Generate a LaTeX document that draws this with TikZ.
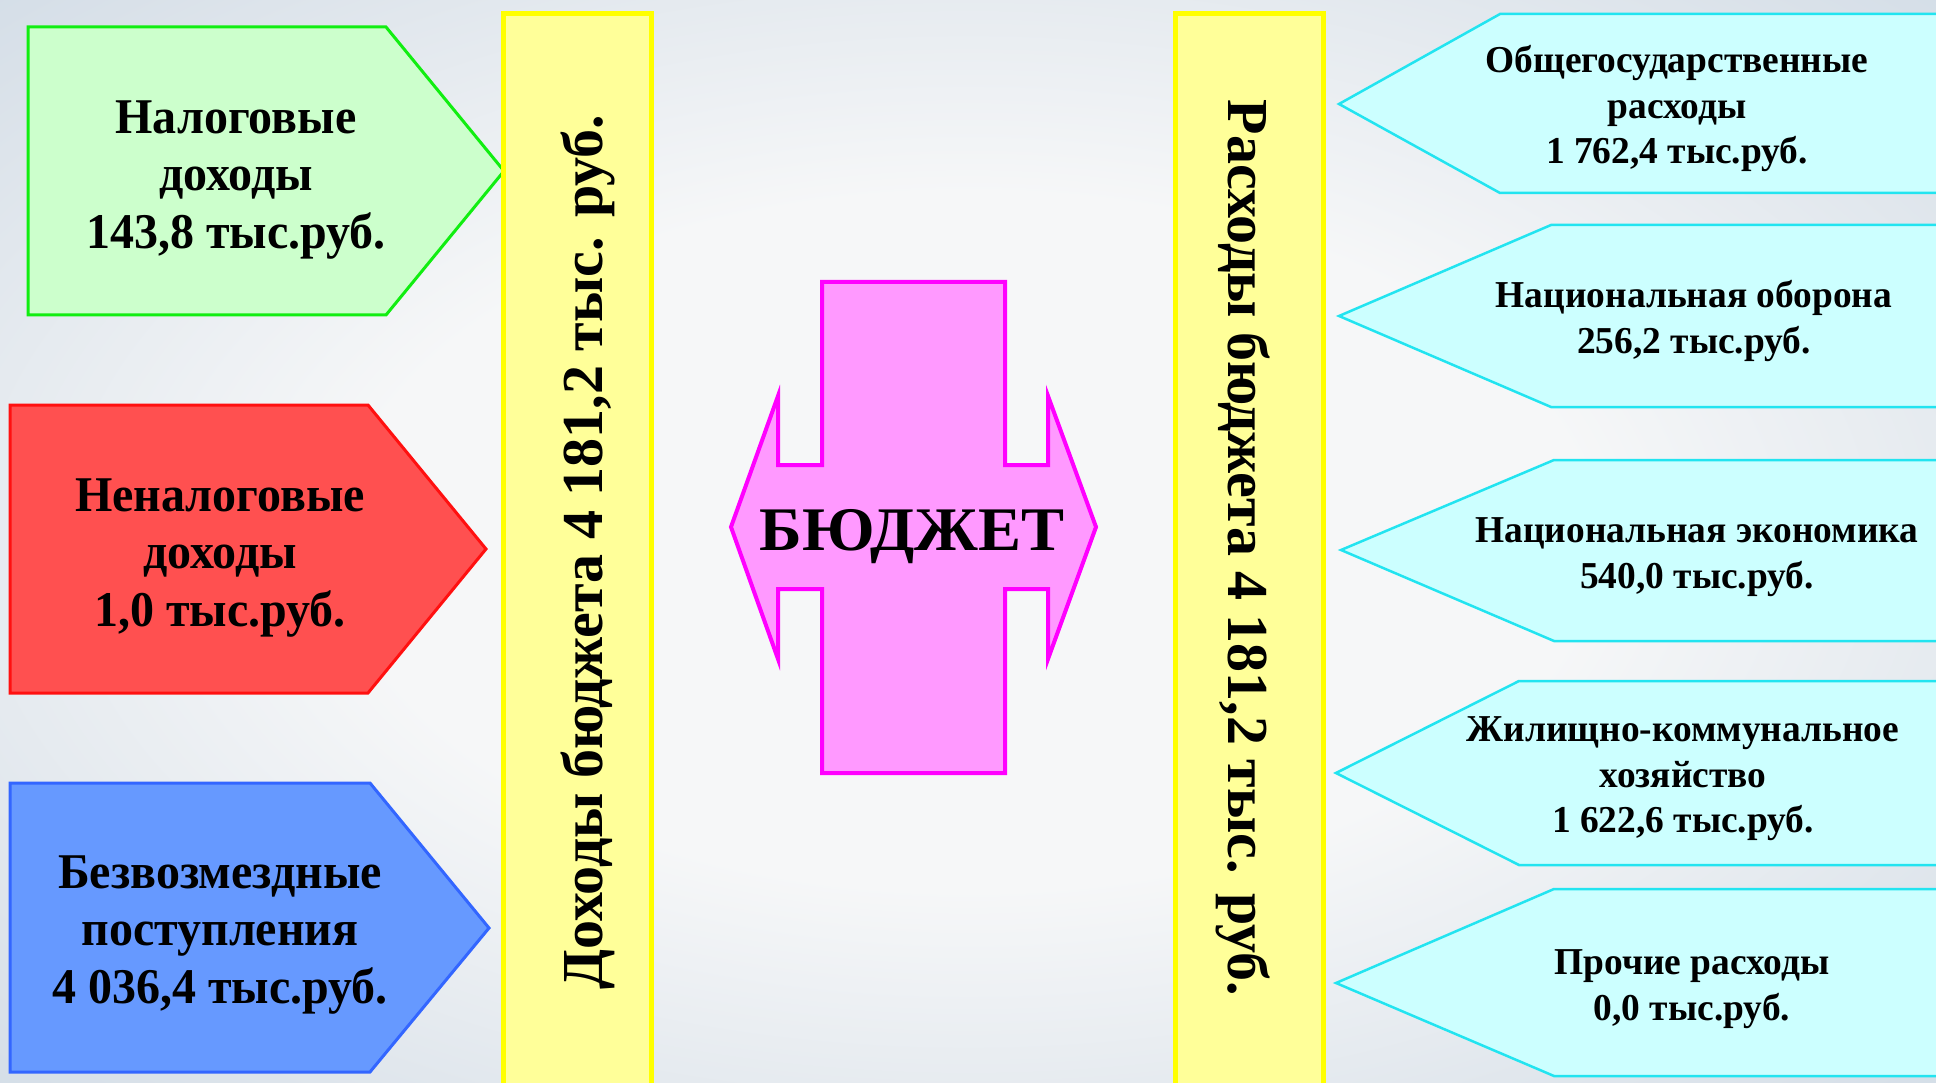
\documentclass[tikz,border=0pt]{standalone}
\usepackage{fontspec}
\setmainfont{Liberation Serif}
\newfontfamily\leftfont{Liberation Serif}[FakeStretch=0.96]
\newfontfamily\rightfont{Liberation Serif}[FakeStretch=0.985]
\newfontfamily\bigfont{Liberation Serif}[FakeStretch=1.04]
\definecolor{bgin}{HTML}{F6F7F8}
\definecolor{bgmid}{HTML}{D9E1E9}
\definecolor{bgout}{HTML}{B4CAE0}
\definecolor{grfill}{HTML}{CCFFCC}
\definecolor{grline}{HTML}{11EE11}
\definecolor{rdfill}{HTML}{FF5050}
\definecolor{rdline}{HTML}{FF1010}
\definecolor{blfill}{HTML}{6699FF}
\definecolor{blline}{HTML}{3366FF}
\definecolor{yefill}{HTML}{FFFF99}
\definecolor{yeline}{HTML}{FFFF00}
\definecolor{mgfill}{HTML}{FF99FF}
\definecolor{mgline}{HTML}{FF00FF}
\definecolor{cyfill}{HTML}{CCFFFF}
\definecolor{cyline}{HTML}{22E4F0}
\pgfdeclareradialshading{bgshade}{\pgfpoint{0bp}{0bp}}{color(0bp)=(bgin); color(16bp)=(bgin); color(33bp)=(bgmid); color(54bp)=(bgout); color(100bp)=(bgout)}
\begin{document}
\begin{tikzpicture}[x=1pt,y=-1pt,
  shapebox/.style={line width=3pt, line join=miter},
  greenbox/.style={shapebox, fill=grfill, draw=grline},
  redbox/.style={shapebox, fill=rdfill, draw=rdline},
  bluebox/.style={shapebox, fill=blfill, draw=blline},
  cyanbox/.style={shapebox, line width=2.5pt, fill=cyfill, draw=cyline},
  bar/.style={line width=5pt, fill=yefill, draw=yeline},
  budget/.style={line width=4pt, fill=mgfill, draw=mgline, line join=miter},
  lbl/.style={font=\leftfont\bfseries\fontsize{50}{57.5}\selectfont, align=center, inner sep=0pt},
  rlbl/.style={font=\rightfont\bfseries\fontsize{38}{45.5}\selectfont, align=center, inner sep=0pt},
  barlbl/.style={font=\bfseries\fontsize{58}{64}\selectfont, inner sep=0pt, anchor=base},
  biglbl/.style={font=\bigfont\bfseries\fontsize{62}{68}\selectfont, inner sep=0pt, anchor=base}]
\useasboundingbox (0,0) rectangle (1936,1083);
\clip (0,0) rectangle (1936,1083);
\shade[shading=bgshade] (0,0) rectangle (1936,1083);

% income boxes
\draw[greenbox] (28,27) -- (386,27) -- (504,171) -- (386,315) -- (28,315) -- cycle;
\node[lbl] (tax) at (236,180) {Налоговые\\доходы\\143,8 тыс.руб.};
\draw[redbox] (10,405) -- (368,405) -- (486,549) -- (368,693) -- (10,693) -- cycle;
\node[lbl] (nontax) at (220,558) {Неналоговые\\доходы\\1,0 тыс.руб.};
\draw[bluebox] (10,783) -- (370,783) -- (489,928) -- (370,1072) -- (10,1072) -- cycle;
\node[lbl] (free) at (220,935) {Безвозмездные\\поступления\\4 036,4 тыс.руб.};

% bars
\draw[bar] (503,14) rectangle (651,1100);
\node[barlbl, rotate=90] (income) at (602,552) {Доходы бюджета 4 181,2 тыс. руб.};
\draw[bar] (1175,14) rectangle (1323,1100);
\node[barlbl, rotate=-90] (expense) at (1228,548) {Расходы бюджета 4 181,2 тыс. руб.};

% budget shape
\draw[budget] (822,282) -- (1005,282) -- (1005,465) -- (1048,465) -- (1048,396)
  -- (1096,527) -- (1048,659) -- (1048,589) -- (1005,589) -- (1005,773)
  -- (822,773) -- (822,589) -- (778,589) -- (778,659) -- (731,527)
  -- (778,396) -- (778,465) -- (822,465) -- cycle;
\node[biglbl] (budgetlbl) at (912,550) {БЮДЖЕТ};

% expense arrows
\draw[cyanbox] (1960,14) -- (1500,14) -- (1339,104) -- (1500,193) -- (1960,193);
\node[rlbl] (gen) at (1677,109) {Общегосударственные\\расходы\\1 762,4 тыс.руб.};
\draw[cyanbox] (1960,225) -- (1551,225) -- (1339,316) -- (1551,407) -- (1960,407);
\node[rlbl] (def) at (1694,321) {Национальная оборона\\256,2 тыс.руб.};
\draw[cyanbox] (1960,460) -- (1554,460) -- (1341,550) -- (1554,641) -- (1960,641);
\node[rlbl] (eco) at (1697,557) {Национальная экономика\\540,0 тыс.руб.};
\draw[cyanbox] (1960,681) -- (1519,681) -- (1336,773) -- (1519,865) -- (1960,865);
\node[rlbl] (hous) at (1683,779) {Жилищно-коммунальное\\хозяйство\\1 622,6 тыс.руб.};
\draw[cyanbox] (1960,889) -- (1554,889) -- (1336,983) -- (1554,1076) -- (1960,1076);
\node[rlbl] (other) at (1692,989) {Прочие расходы\\0,0 тыс.руб.};
\end{tikzpicture}
\end{document}
